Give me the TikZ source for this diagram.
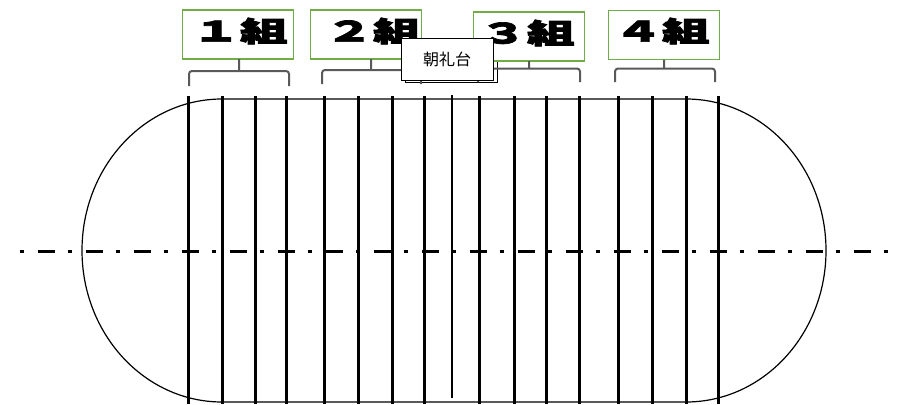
\documentclass[tikz,border=0pt]{standalone}
\usepackage{fontspec}
\newfontfamily\cjk{Noto Sans CJK JP}
\newfontfamily\cjkheavy[FakeBold=2.5]{Noto Sans CJK JP}
\definecolor{groupgreen}{HTML}{70AD47}
\definecolor{bracegray}{HTML}{595959}
\begin{document}
\begin{tikzpicture}[x=1pt, y=-1pt,
	      	track/.style={draw, line width=1.2pt},
	      	lane/.style={line width=3pt},
	      	thinlane/.style={line width=1.3pt},
	      	axis/.style={line width=3pt, dash pattern=on 4pt off 13.5pt on 17pt off 13.5pt},
	      	group/.style={draw=groupgreen, fill=white, line width=1.5pt, minimum width=111pt, minimum height=49pt, inner sep=0pt},
	      	grouplabel/.style={font=\cjkheavy\bfseries\fontsize{28}{28}\selectfont, xscale=1.7, inner sep=0pt},
	      	brace/.style={draw=bracegray, line width=2pt, rounded corners=3pt},
	      	stageshadow/.style={draw, fill=white, line width=1pt, minimum width=92pt, minimum height=42pt, inner sep=0pt},
	      	stage/.style={stageshadow, font=\cjk\fontsize{16}{16}\selectfont}]
	          \useasboundingbox (0,0) rectangle (901,404);
	          \draw[track] (222,99) -- (686,99) arc[start angle=90, end angle=-90, x radius=140pt, y radius=151.5pt]
	                -- (222,402) arc[start angle=270, end angle=90, x radius=140pt, y radius=151.5pt] -- cycle;
	          \draw[lane] (188,96) -- (188,404);
	          \draw[lane] (222,96) -- (222,404);
	          \draw[lane] (255.5,96) -- (255.5,404);
	          \draw[lane] (286,96) -- (286,404);
	          \draw[lane] (324.5,96) -- (324.5,404);
	          \draw[lane] (358.5,96) -- (358.5,404);
	          \draw[lane] (392,96) -- (392,404);
	          \draw[lane] (424.5,96) -- (424.5,404);
	          \draw[thinlane] (452,95) -- (452,398);
	          \draw[lane] (479,96) -- (479,404);
	          \draw[lane] (514,96) -- (514,404);
	          \draw[lane] (546.5,96) -- (546.5,404);
	          \draw[lane] (579,96) -- (579,404);
	          \draw[lane] (618.5,96) -- (618.5,404);
	          \draw[lane] (652.5,96) -- (652.5,404);
	          \draw[lane] (686,96) -- (686,404);
	          \draw[lane] (718.5,96) -- (718.5,404);
	          \draw[axis] (20,251.5) -- (901,251.5);
	          \node[stageshadow] (shadow) at (451,61.5) {};
	          \node[group] (g1) at (238,34.5) {};
	          \node[group] (g2) at (366,34.5) {};
	          \node[group] (g3) at (529,36.7) {};
	          \node[group] (g4) at (664,35) {};
	          \node[grouplabel] (t1) at (240,31) {１組};
	          \node[grouplabel] (t2) at (373,31) {２組};
	          \node[grouplabel] (t3) at (527,33) {３組};
	          \node[grouplabel] (t4) at (662,31) {４組};
	          \draw[brace] (189,86) -- (189,71) -- (289,71) -- (289,86) (239,71) -- (239,59);
	          \draw[brace] (322,84) -- (322,70) -- (421,70) -- (421,84) (371,70) -- (371,59);
	          \draw[brace] (478,82) -- (478,68.5) -- (580,68.5) -- (580,82) (529,68.5) -- (529,61);
	          \draw[brace] (615,82) -- (615,68.5) -- (715,68.5) -- (715,82) (664,68.5) -- (664,59.5);
	          \node[stage] (stage) at (447,59.2) {朝礼台};
	      \end{tikzpicture}
\end{document}
